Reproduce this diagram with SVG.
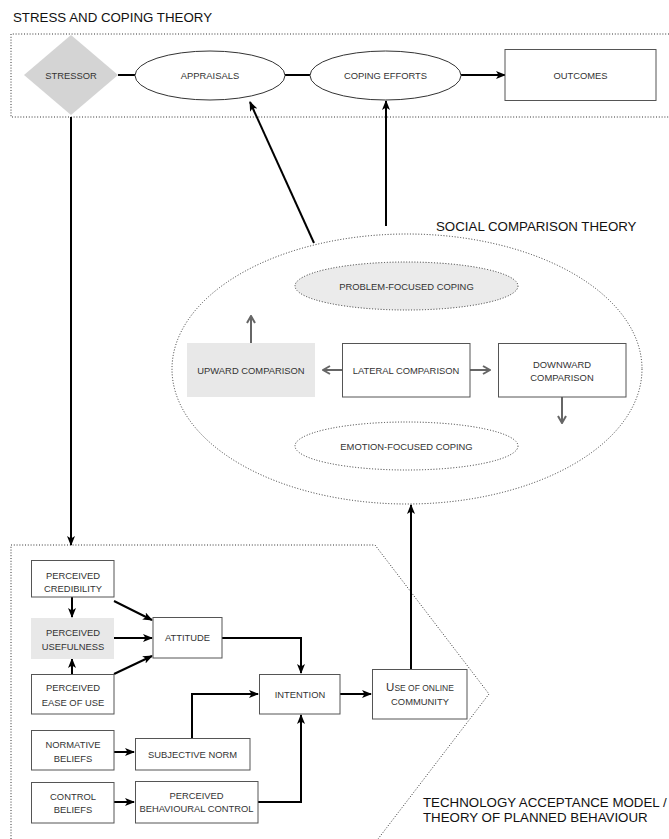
<svg xmlns="http://www.w3.org/2000/svg" width="669" height="839" viewBox="0 0 669 839">
<style>
text{font-family:"Liberation Sans",Arial,sans-serif;}
.title{font-size:13.3px;fill:#111;}
.lbl{font-size:9.4px;fill:#333;text-anchor:middle;}
.box{fill:#fff;stroke:#555;stroke-width:1;}
.ell{fill:#fff;stroke:#333;stroke-width:1;}
.dot{fill:none;stroke:#333;stroke-width:1;stroke-dasharray:1 1.8;}
.con{fill:none;stroke:#000;stroke-width:2;}
.gcon{fill:none;stroke:#666;stroke-width:2;}
</style>
<defs>
<marker id="ah" viewBox="0 0 10 10" refX="9" refY="5" markerWidth="10" markerHeight="10" markerUnits="userSpaceOnUse" orient="auto">
<path d="M0,1 L10,5 L0,9 L2.5,5 z" fill="#000"/>
</marker>
<marker id="gah" viewBox="0 0 10 10" refX="9" refY="5" markerWidth="10" markerHeight="10" markerUnits="userSpaceOnUse" orient="auto">
<path d="M2,1 L9,5 L2,9" fill="none" stroke="#666" stroke-width="2"/>
</marker>
</defs>
<rect width="669" height="839" fill="#fff"/>

<g id="frames">
<text class="title" x="13" y="22">STRESS AND COPING THEORY</text>
<path class="dot" d="M669,34 H11 V117 H669"/>
<text class="title" x="436" y="231">SOCIAL COMPARISON THEORY</text>
<ellipse class="dot" cx="407" cy="369" rx="235" ry="135"/>
<path class="dot" d="M11,839 V545 H375 L489,694 L378,839"/>
<text class="title" x="423" y="807">TECHNOLOGY ACCEPTANCE MODEL /</text>
<text class="title" x="423" y="822">THEORY OF PLANNED BEHAVIOUR</text>
</g>

<g id="connectors">
<line class="con" x1="118" y1="75" x2="135" y2="75"/>
<line class="con" x1="285" y1="75" x2="310" y2="75"/>
<line class="con" x1="461" y1="75" x2="505" y2="75" marker-end="url(#ah)"/>
<line class="con" x1="71" y1="117" x2="71" y2="545" marker-end="url(#ah)"/>
<line class="con" x1="314" y1="243" x2="250" y2="102" marker-end="url(#ah)"/>
<line class="con" x1="386" y1="226" x2="386" y2="101" marker-end="url(#ah)"/>
<line class="con" x1="411" y1="669" x2="411" y2="505" marker-end="url(#ah)"/>
<line class="gcon" x1="251" y1="343" x2="251" y2="316" marker-end="url(#gah)"/>
<line class="gcon" x1="342" y1="370" x2="323" y2="370" marker-end="url(#gah)"/>
<line class="gcon" x1="470" y1="370" x2="490" y2="370" marker-end="url(#gah)"/>
<line class="gcon" x1="562" y1="397" x2="562" y2="423" marker-end="url(#gah)"/>
<line class="con" x1="72" y1="597" x2="72" y2="617" marker-end="url(#ah)"/>
<line class="con" x1="72" y1="674" x2="72" y2="659" marker-end="url(#ah)"/>
<line class="con" x1="114" y1="601" x2="152" y2="620" marker-end="url(#ah)"/>
<line class="con" x1="114" y1="638" x2="152" y2="638" marker-end="url(#ah)"/>
<line class="con" x1="114" y1="674" x2="152" y2="656" marker-end="url(#ah)"/>
<polyline class="con" points="222,638 301,638 301,673" marker-end="url(#ah)"/>
<polyline class="con" points="192,738 192,694 258,694" marker-end="url(#ah)"/>
<polyline class="con" points="258,802 301,802 301,715" marker-end="url(#ah)"/>
<line class="con" x1="114" y1="752" x2="134" y2="752" marker-end="url(#ah)"/>
<line class="con" x1="114" y1="802" x2="134" y2="802" marker-end="url(#ah)"/>
<line class="con" x1="340" y1="694" x2="371" y2="694" marker-end="url(#ah)"/>
</g>

<g id="stressor">
<polygon points="71,35 118,75 71,115 24,75" fill="#d4d4d4"/>
<text class="lbl" x="71" y="78.5">STRESSOR</text>
</g>
<g id="appraisals">
<ellipse class="ell" cx="210" cy="75.5" rx="75" ry="24.5"/>
<text class="lbl" x="210" y="79">APPRAISALS</text>
</g>
<g id="coping-efforts">
<ellipse class="ell" cx="385.5" cy="75.5" rx="75.5" ry="24.5"/>
<text class="lbl" x="385.5" y="79">COPING EFFORTS</text>
</g>
<g id="outcomes">
<rect class="box" x="505" y="49.5" width="151" height="51"/>
<text class="lbl" x="580.5" y="78.5">OUTCOMES</text>
</g>

<g id="problem-focused">
<ellipse cx="406.5" cy="286" rx="111.5" ry="24" fill="#ebebeb" stroke="#333" stroke-width="1" stroke-dasharray="1 1.8"/>
<text class="lbl" x="406.5" y="289.5">PROBLEM-FOCUSED COPING</text>
</g>
<g id="emotion-focused">
<ellipse class="dot" cx="406.5" cy="446" rx="111.5" ry="24" fill="#fff"/>
<text class="lbl" x="406.5" y="449.5">EMOTION-FOCUSED COPING</text>
</g>
<g id="upward">
<rect x="187" y="343" width="128" height="54" fill="#e8e8e8"/>
<text class="lbl" x="251" y="373.5">UPWARD COMPARISON</text>
</g>
<g id="lateral">
<rect class="box" x="342.5" y="343.5" width="127.5" height="53.5"/>
<text class="lbl" x="406" y="373.5">LATERAL COMPARISON</text>
</g>
<g id="downward">
<rect class="box" x="498.5" y="343.5" width="127.5" height="53.5"/>
<text class="lbl" x="562" y="368">DOWNWARD</text>
<text class="lbl" x="562" y="381">COMPARISON</text>
</g>

<g id="credibility">
<rect class="box" x="31.5" y="560.5" width="82.5" height="36.5"/>
<text class="lbl" x="73" y="579">PERCEIVED</text>
<text class="lbl" x="73" y="592">CREDIBILITY</text>
</g>
<g id="usefulness">
<rect x="31" y="618" width="83" height="41" fill="#e8e8e8"/>
<text class="lbl" x="73" y="636">PERCEIVED</text>
<text class="lbl" x="73" y="650">USEFULNESS</text>
</g>
<g id="ease-of-use">
<rect class="box" x="31.5" y="674.5" width="82.5" height="39.5"/>
<text class="lbl" x="73" y="691">PERCEIVED</text>
<text class="lbl" x="73" y="706">EASE OF USE</text>
</g>
<g id="attitude">
<rect class="box" x="153" y="617.5" width="69" height="40.5"/>
<text class="lbl" x="187.5" y="641">ATTITUDE</text>
</g>
<g id="intention">
<rect class="box" x="259.5" y="674.5" width="80.5" height="39.5"/>
<text class="lbl" x="300" y="697.5">INTENTION</text>
</g>
<g id="use-online-community">
<rect class="box" x="372.5" y="669.5" width="94.5" height="49.5"/>
<text class="lbl" x="420" y="691"><tspan font-size="11.5">U</tspan><tspan font-size="8.5">SE OF ONLINE</tspan></text>
<text class="lbl" x="420" y="705" font-size="8.5">COMMUNITY</text>
</g>
<g id="normative-beliefs">
<rect class="box" x="31.5" y="730.5" width="82.5" height="39.5"/>
<text class="lbl" x="73" y="748">NORMATIVE</text>
<text class="lbl" x="73" y="762">BELIEFS</text>
</g>
<g id="subjective-norm">
<rect class="box" x="135.5" y="738.5" width="114.5" height="31.5"/>
<text class="lbl" x="192.5" y="757.5">SUBJECTIVE NORM</text>
</g>
<g id="control-beliefs">
<rect class="box" x="31.5" y="782.5" width="82.5" height="40.5"/>
<text class="lbl" x="73" y="800">CONTROL</text>
<text class="lbl" x="73" y="813">BELIEFS</text>
</g>
<g id="pbc">
<rect class="box" x="135.5" y="781.5" width="122.5" height="41.5"/>
<text class="lbl" x="196.5" y="799">PERCEIVED</text>
<text class="lbl" x="196.5" y="812">BEHAVIOURAL CONTROL</text>
</g>
</svg>
